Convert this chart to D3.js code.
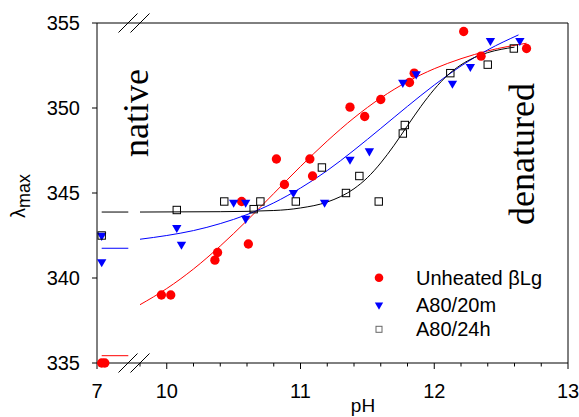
<!DOCTYPE html>
<html>
<head>
<meta charset="utf-8">
<script src="https://cdn.jsdelivr.net/npm/d3@7"></script>
<style>
body { margin: 0; background: #fff; }
svg { display: block; font-family: "Liberation Sans", Arial, sans-serif; }
</style>
</head>
<body>
<svg id="chart" width="579" height="417"></svg>
<script>
// points: [pH, lambda max]
const unheated = [[7.09, 335.0], [7.15, 335.0],
    [9.96, 339.0], [10.03, 339.0], [10.36, 341.05], [10.38, 341.5], [10.56, 344.5], [10.61, 342.0],
    [10.82, 347.0], [10.88, 345.5], [11.07, 347.0], [11.09, 346.0], [11.37, 350.05], [11.48, 349.5],
    [11.6, 350.5], [11.815, 351.5], [11.85, 352.05], [12.22, 354.5], [12.35, 353.05], [12.69, 353.5]];
const a80m20 = [[7.09, 340.95], [7.09, 342.5],
    [10.075, 342.96], [10.11, 341.98], [10.5, 344.45], [10.59, 344.45], [10.59, 343.5], [10.947, 345.02],
    [11.18, 344.45], [11.37, 346.98], [11.515, 347.47], [11.765, 351.5], [11.865, 352.0], [12.136, 351.45],
    [12.27, 352.43], [12.42, 353.96], [12.64, 353.96]];
const a80h24 = [[7.09, 342.5],
    [10.075, 344.0], [10.43, 344.5], [10.65, 344.05], [10.7, 344.5], [10.965, 344.5], [11.16, 346.5],
    [11.34, 345.0], [11.44, 346.0], [11.585, 344.5], [11.765, 348.5], [11.78, 349.0], [12.12, 352.05],
    [12.4, 352.55], [12.595, 353.5]];

// fitted curves
const unheatedFitLow = [[7.09, 335.43], [7.6, 335.43]];
const unheatedFit = [[9.8, 338.43], [10.0, 339.38], [10.2, 340.53], [10.4, 341.88], [10.6, 343.38],
    [10.8, 344.97], [11.0, 346.56], [11.2, 348.06], [11.4, 349.42], [11.6, 350.59], [11.8, 351.55],
    [12.0, 352.31], [12.2, 352.9], [12.4, 353.36], [12.69, 353.81]];
const a80m20FitLow = [[7.09, 341.75], [7.6, 341.75]];
const a80m20Fit = [[9.8, 342.28], [10.0, 342.5], [10.2, 342.79], [10.4, 343.2], [10.6, 343.73],
    [10.8, 344.42], [11.0, 345.29], [11.2, 346.32], [11.4, 347.52], [11.6, 348.8], [11.8, 350.1],
    [12.0, 351.35], [12.2, 352.47], [12.4, 353.42], [12.63, 354.3]];
const a80h24FitLow = [[7.09, 343.88], [7.6, 343.88]];
const a80h24Fit = [[9.8, 343.88], [10.4, 343.9], [10.8, 343.97], [11.0, 344.12], [11.2, 344.47],
    [11.4, 345.25], [11.5, 345.9], [11.6, 346.77], [11.7, 347.81], [11.8, 348.96], [11.9, 350.09],
    [12.0, 351.1], [12.1, 351.93], [12.2, 352.54], [12.3, 352.97], [12.4, 353.26], [12.5, 353.45],
    [12.6, 353.58]];

const yTicks = [335, 340, 345, 350, 355];
const legendLabels = ["Unheated \u03b2Lg", "A80/20m", "A80/24h"];

const svg = d3.select("#chart");
svg.append("rect").attr("width", 579).attr("height", 417).attr("fill", "#fff");

// broken x axis: a short piece for pH 7, then 9.8 - 13
const xLeft = d3.scaleLinear().domain([7, 7.6]).range([97, 128.3]);
const xRight = d3.scaleLinear().domain([9.8, 13]).range([140, 568]);
const x = p => p < 9 ? xLeft(p) : xRight(p);
const y = d3.scaleLinear().domain([335, 355]).range([363, 23]);

const line = d3.line().x(d => x(d[0])).y(d => y(d[1])).curve(d3.curveMonotoneX);

const fits = [
    { data: unheatedFitLow, color: "#ff0000" }, { data: unheatedFit, color: "#ff0000" },
    { data: a80m20FitLow, color: "#0000ff" }, { data: a80m20Fit, color: "#0000ff" },
    { data: a80h24FitLow, color: "#000" }, { data: a80h24Fit, color: "#000" }
];
svg.append("g").selectAll("path")
    .data(fits)
    .enter().append("path")
    .attr("d", d => line(d.data))
    .attr("fill", "none")
    .attr("stroke", d => d.color)
    .attr("stroke-width", 1);

// frame
const frame = svg.append("g").attr("stroke", "#000").attr("stroke-width", 1).attr("fill", "none");
frame.append("path").attr("d", `M97,${y(355)}V${y(335)}H568V${y(355)}Z`);

// break marks
[y(335), y(355)].forEach(yy => {
    [0, 12].forEach(off => {
        frame.append("line")
            .attr("x1", 118.5 + off).attr("y1", yy + 9.5)
            .attr("x2", 137.5 + off).attr("y2", yy - 9.5);
    });
});

// x ticks
const minor = xRight.ticks(16).filter(t => Math.abs(t - Math.round(t)) > 1e-6);
const major = [7, 10, 11, 12, 13];
frame.selectAll(".minor").data(minor).enter().append("line")
    .attr("x1", d => x(d)).attr("x2", d => x(d))
    .attr("y1", y(335)).attr("y2", y(335) + 3.5);
frame.selectAll(".major").data(major).enter().append("line")
    .attr("x1", d => x(d)).attr("x2", d => x(d))
    .attr("y1", y(335)).attr("y2", y(335) + 6);
svg.append("g").selectAll("text").data(major).enter().append("text")
    .attr("x", d => x(d)).attr("y", 398)
    .attr("text-anchor", "middle")
    .attr("font-size", 20)
    .text(d => d);

// y ticks
frame.selectAll(".ytick").data(yTicks).enter().append("line")
    .attr("x1", 92).attr("x2", 97)
    .attr("y1", d => y(d)).attr("y2", d => y(d));
svg.append("g").selectAll("text").data(yTicks).enter().append("text")
    .attr("x", 80).attr("y", d => y(d) + 7)
    .attr("text-anchor", "end")
    .attr("font-size", 20)
    .text(d => d);

// axis titles
svg.append("text").attr("x", 363).attr("y", 412).attr("text-anchor", "middle")
    .attr("font-size", 19).text("pH");
const yl = svg.append("text").attr("transform", "translate(25,218) rotate(-90)")
    .attr("font-size", 20);
yl.append("tspan").text("\u03bb");
yl.append("tspan").attr("dy", 5).attr("font-size", 18).text("max");

// annotations
svg.append("text").attr("transform", "translate(148,113) rotate(-90)")
    .attr("text-anchor", "middle")
    .attr("font-family", "'Liberation Serif', 'Times New Roman', serif")
    .attr("font-size", 36).text("native");
svg.append("text").attr("transform", "translate(534,154) rotate(-90)")
    .attr("text-anchor", "middle")
    .attr("font-family", "'Liberation Serif', 'Times New Roman', serif")
    .attr("font-size", 36).text("denatured");

// markers
const circle = d3.symbol().type(d3.symbolCircle).size(68);
const tri = d3.symbol().type(d3.symbolTriangle).size(38);

svg.append("g").selectAll("path").data(unheated).enter().append("path")
    .attr("d", circle)
    .attr("transform", d => `translate(${x(d[0])},${y(d[1])})`)
    .attr("fill", "#ff0000");

svg.append("g").selectAll("path").data(a80m20).enter().append("path")
    .attr("d", tri)
    .attr("transform", d => `translate(${x(d[0])},${y(d[1])}) rotate(180)`)
    .attr("fill", "#0000ff");

svg.append("g").selectAll("rect").data(a80h24).enter().append("rect")
    .attr("x", d => x(d[0]) - 3.7).attr("y", d => y(d[1]) - 3.7)
    .attr("width", 7.4).attr("height", 7.4)
    .attr("fill", "none").attr("stroke", "#000").attr("stroke-width", 1);

// legend
const lg = svg.append("g").attr("transform", "translate(379,0)");
const rows = [277.7, 305, 329.3];
lg.append("circle").attr("cx", 0).attr("cy", rows[0]).attr("r", 4.3).attr("fill", "#ff0000");
lg.append("path").attr("d", d3.symbol().type(d3.symbolTriangle).size(30))
    .attr("transform", `translate(0,${rows[1]}) rotate(180)`).attr("fill", "#0000ff");
lg.append("rect").attr("x", -3).attr("y", rows[2] - 3).attr("width", 6).attr("height", 6)
    .attr("fill", "none").attr("stroke", "#666");
lg.selectAll("text").data(legendLabels).enter().append("text")
    .attr("x", 37).attr("y", (d, i) => rows[i] + 7)
    .attr("font-size", 20)
    .text(d => d);
</script>
</body>
</html>
